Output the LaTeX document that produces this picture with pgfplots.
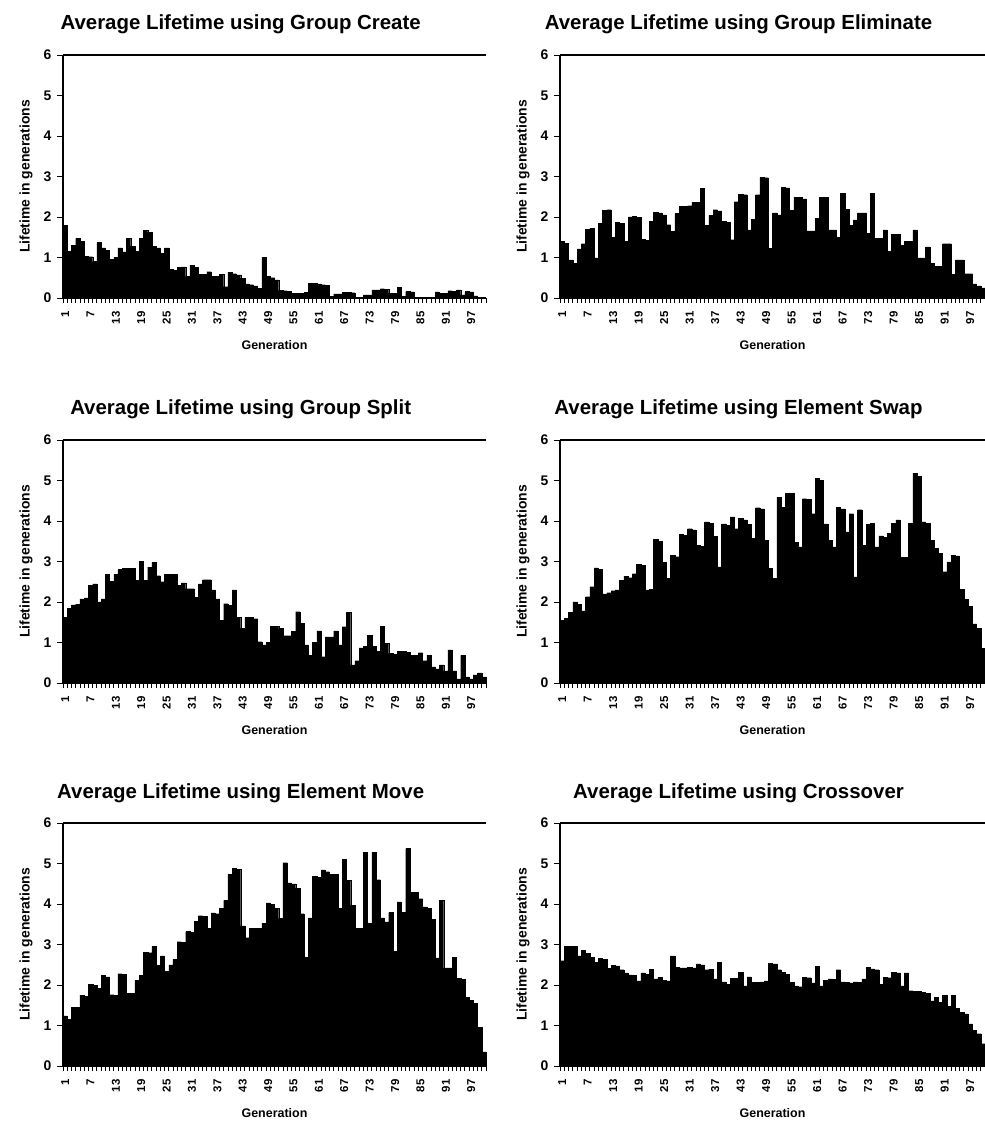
\documentclass[border=0pt]{standalone}
\usepackage{fontspec}
\setmainfont{Liberation Sans}
\usepackage{pgfplots}
\usepackage{pgfplotstable}
\pgfplotsset{compat=1.18}

\pgfplotstableread[row sep=\\]{g v\\
1 1.80\\ 2 1.15\\ 3 1.30\\ 4 1.47\\ 5 1.40\\ 6 1.03\\ 7 1.02\\ 8 0.90\\ 9 1.37\\ 10 1.24\\
11 1.18\\ 12 0.95\\ 13 1.00\\ 14 1.24\\ 15 1.14\\ 16 1.47\\ 17 1.28\\ 18 1.15\\ 19 1.47\\ 20 1.67\\
21 1.62\\ 22 1.28\\ 23 1.24\\ 24 1.10\\ 25 1.24\\ 26 0.71\\ 27 0.68\\ 28 0.76\\ 29 0.77\\ 30 0.53\\
31 0.81\\ 32 0.76\\ 33 0.59\\ 34 0.59\\ 35 0.65\\ 36 0.53\\ 37 0.53\\ 38 0.59\\ 39 0.28\\ 40 0.63\\
41 0.60\\ 42 0.57\\ 43 0.49\\ 44 0.35\\ 45 0.33\\ 46 0.30\\ 47 0.24\\ 48 1.00\\ 49 0.53\\ 50 0.50\\
51 0.45\\ 52 0.19\\ 53 0.18\\ 54 0.17\\ 55 0.12\\ 56 0.11\\ 57 0.12\\ 58 0.14\\ 59 0.37\\ 60 0.37\\
61 0.35\\ 62 0.33\\ 63 0.31\\ 64 0.04\\ 65 0.10\\ 66 0.10\\ 67 0.14\\ 68 0.14\\ 69 0.13\\ 70 0.00\\
71 0.00\\ 72 0.08\\ 73 0.08\\ 74 0.20\\ 75 0.20\\ 76 0.23\\ 77 0.22\\ 78 0.12\\ 79 0.12\\ 80 0.27\\
81 0.04\\ 82 0.16\\ 83 0.15\\ 84 0.02\\ 85 0.02\\ 86 0.00\\ 87 0.02\\ 88 0.02\\ 89 0.15\\ 90 0.12\\
91 0.12\\ 92 0.18\\ 93 0.17\\ 94 0.20\\ 95 0.08\\ 96 0.16\\ 97 0.15\\ 98 0.05\\ 99 0.02\\ 100 0.00\\
}\create

\pgfplotstableread[row sep=\\]{g v\\
1 1.40\\ 2 1.35\\ 3 0.94\\ 4 0.85\\ 5 1.21\\ 6 1.34\\ 7 1.70\\ 8 1.72\\ 9 0.99\\ 10 1.85\\
11 2.16\\ 12 2.18\\ 13 1.50\\ 14 1.87\\ 15 1.85\\ 16 1.40\\ 17 2.00\\ 18 2.02\\ 19 1.99\\ 20 1.45\\
21 1.42\\ 22 1.90\\ 23 2.11\\ 24 2.10\\ 25 2.05\\ 26 1.81\\ 27 1.64\\ 28 2.09\\ 29 2.26\\ 30 2.26\\
31 2.28\\ 32 2.36\\ 33 2.36\\ 34 2.71\\ 35 1.80\\ 36 2.04\\ 37 2.18\\ 38 2.15\\ 39 1.89\\ 40 1.87\\
41 1.44\\ 42 2.38\\ 43 2.56\\ 44 2.55\\ 45 1.68\\ 46 1.95\\ 47 2.55\\ 48 2.98\\ 49 2.97\\ 50 1.23\\
51 2.10\\ 52 2.05\\ 53 2.74\\ 54 2.72\\ 55 2.16\\ 56 2.49\\ 57 2.48\\ 58 2.45\\ 59 1.66\\ 60 1.66\\
61 1.97\\ 62 2.49\\ 63 2.48\\ 64 1.68\\ 65 1.68\\ 66 1.50\\ 67 2.59\\ 68 2.19\\ 69 1.80\\ 70 1.93\\
71 2.10\\ 72 2.10\\ 73 1.60\\ 74 2.59\\ 75 1.48\\ 76 1.48\\ 77 1.68\\ 78 1.15\\ 79 1.58\\ 80 1.58\\
81 1.30\\ 82 1.40\\ 83 1.40\\ 84 1.68\\ 85 0.99\\ 86 0.99\\ 87 1.26\\ 88 0.85\\ 89 0.78\\ 90 0.78\\
91 1.34\\ 92 1.34\\ 93 0.58\\ 94 0.94\\ 95 0.94\\ 96 0.60\\ 97 0.60\\ 98 0.35\\ 99 0.30\\ 100 0.25\\
}\eliminate

\pgfplotstableread[row sep=\\]{g v\\
1 1.62\\ 2 1.84\\ 3 1.93\\ 4 1.95\\ 5 2.08\\ 6 2.10\\ 7 2.41\\ 8 2.45\\ 9 2.00\\ 10 2.08\\
11 2.68\\ 12 2.51\\ 13 2.68\\ 14 2.80\\ 15 2.83\\ 16 2.83\\ 17 2.83\\ 18 2.53\\ 19 3.00\\ 20 2.53\\
21 2.86\\ 22 2.98\\ 23 2.65\\ 24 2.50\\ 25 2.68\\ 26 2.68\\ 27 2.68\\ 28 2.41\\ 29 2.47\\ 30 2.33\\
31 2.33\\ 32 2.12\\ 33 2.45\\ 34 2.55\\ 35 2.55\\ 36 2.30\\ 37 2.08\\ 38 1.55\\ 39 1.96\\ 40 1.92\\
41 2.30\\ 42 1.62\\ 43 1.35\\ 44 1.62\\ 45 1.62\\ 46 1.59\\ 47 1.02\\ 48 0.94\\ 49 1.00\\ 50 1.40\\
51 1.40\\ 52 1.35\\ 53 1.17\\ 54 1.17\\ 55 1.27\\ 56 1.76\\ 57 1.47\\ 58 0.94\\ 59 0.68\\ 60 1.00\\
61 1.29\\ 62 0.65\\ 63 1.14\\ 64 1.14\\ 65 1.29\\ 66 0.94\\ 67 1.39\\ 68 1.74\\ 69 0.45\\ 70 0.55\\
71 0.87\\ 72 0.90\\ 73 1.18\\ 74 0.90\\ 75 0.78\\ 76 1.40\\ 77 0.98\\ 78 0.73\\ 79 0.71\\ 80 0.78\\
81 0.78\\ 82 0.76\\ 83 0.69\\ 84 0.69\\ 85 0.75\\ 86 0.55\\ 87 0.69\\ 88 0.40\\ 89 0.35\\ 90 0.45\\
91 0.30\\ 92 0.82\\ 93 0.30\\ 94 0.10\\ 95 0.68\\ 96 0.15\\ 97 0.10\\ 98 0.20\\ 99 0.25\\ 100 0.15\\
}\split

\pgfplotstableread[row sep=\\]{g v\\
1 1.55\\ 2 1.60\\ 3 1.75\\ 4 2.00\\ 5 1.95\\ 6 1.78\\ 7 2.13\\ 8 2.38\\ 9 2.84\\ 10 2.80\\
11 2.20\\ 12 2.23\\ 13 2.28\\ 14 2.30\\ 15 2.54\\ 16 2.64\\ 17 2.60\\ 18 2.70\\ 19 2.93\\ 20 2.90\\
21 2.30\\ 22 2.31\\ 23 3.55\\ 24 3.50\\ 25 2.98\\ 26 2.58\\ 27 3.15\\ 28 3.12\\ 29 3.67\\ 30 3.65\\
31 3.81\\ 32 3.78\\ 33 3.40\\ 34 3.38\\ 35 3.98\\ 36 3.95\\ 37 3.62\\ 38 2.87\\ 39 3.93\\ 40 3.90\\
41 4.10\\ 42 3.81\\ 43 4.06\\ 44 4.03\\ 45 3.92\\ 46 3.57\\ 47 4.33\\ 48 4.30\\ 49 3.52\\ 50 2.83\\
51 2.58\\ 52 4.59\\ 53 4.34\\ 54 4.69\\ 55 4.68\\ 56 3.48\\ 57 3.36\\ 58 4.55\\ 59 4.53\\ 60 4.18\\
61 5.06\\ 62 5.00\\ 63 3.93\\ 64 3.52\\ 65 3.36\\ 66 4.34\\ 67 4.30\\ 68 3.73\\ 69 4.18\\ 70 2.62\\
71 4.28\\ 72 3.40\\ 73 3.92\\ 74 3.95\\ 75 3.36\\ 76 3.63\\ 77 3.60\\ 78 3.70\\ 79 3.95\\ 80 4.03\\
81 3.11\\ 82 3.11\\ 83 3.95\\ 84 5.18\\ 85 5.10\\ 86 3.98\\ 87 3.95\\ 88 3.52\\ 89 3.32\\ 90 3.20\\
91 2.75\\ 92 2.99\\ 93 3.16\\ 94 3.14\\ 95 2.32\\ 96 2.07\\ 97 1.89\\ 98 1.46\\ 99 1.35\\ 100 0.86\\
}\swap

\pgfplotstableread[row sep=\\]{g v\\
1 1.24\\ 2 1.16\\ 3 1.45\\ 4 1.45\\ 5 1.75\\ 6 1.72\\ 7 2.02\\ 8 2.00\\ 9 1.92\\ 10 2.24\\
11 2.20\\ 12 1.76\\ 13 1.74\\ 14 2.28\\ 15 2.26\\ 16 1.80\\ 17 1.80\\ 18 2.11\\ 19 2.24\\ 20 2.81\\
21 2.80\\ 22 2.95\\ 23 2.49\\ 24 2.72\\ 25 2.34\\ 26 2.50\\ 27 2.63\\ 28 3.07\\ 29 3.05\\ 30 3.32\\
31 3.30\\ 32 3.58\\ 33 3.71\\ 34 3.70\\ 35 3.40\\ 36 3.78\\ 37 3.76\\ 38 3.90\\ 39 4.09\\ 40 4.74\\
41 4.88\\ 42 4.86\\ 43 3.46\\ 44 3.17\\ 45 3.40\\ 46 3.40\\ 47 3.40\\ 48 3.52\\ 49 4.03\\ 50 4.00\\
51 3.90\\ 52 3.64\\ 53 5.02\\ 54 4.52\\ 55 4.50\\ 56 4.39\\ 57 3.76\\ 58 2.68\\ 59 3.66\\ 60 4.68\\
61 4.66\\ 62 4.84\\ 63 4.80\\ 64 4.74\\ 65 4.74\\ 66 3.89\\ 67 5.10\\ 68 4.58\\ 69 3.97\\ 70 3.40\\
71 3.40\\ 72 5.28\\ 73 3.52\\ 74 5.28\\ 75 4.60\\ 76 3.66\\ 77 3.56\\ 78 3.79\\ 79 2.83\\ 80 4.05\\
81 3.80\\ 82 5.37\\ 83 4.29\\ 84 4.29\\ 85 4.13\\ 86 3.93\\ 87 3.89\\ 88 3.62\\ 89 2.67\\ 90 4.09\\
91 2.42\\ 92 2.42\\ 93 2.68\\ 94 2.16\\ 95 2.14\\ 96 1.69\\ 97 1.62\\ 98 1.55\\ 99 0.95\\ 100 0.35\\
}\move

\pgfplotstableread[row sep=\\]{g v\\
1 2.60\\ 2 2.95\\ 3 2.95\\ 4 2.95\\ 5 2.72\\ 6 2.86\\ 7 2.78\\ 8 2.68\\ 9 2.56\\ 10 2.66\\
11 2.64\\ 12 2.41\\ 13 2.49\\ 14 2.47\\ 15 2.38\\ 16 2.30\\ 17 2.25\\ 18 2.24\\ 19 2.10\\ 20 2.30\\
21 2.27\\ 22 2.39\\ 23 2.15\\ 24 2.19\\ 25 2.12\\ 26 2.10\\ 27 2.72\\ 28 2.43\\ 29 2.42\\ 30 2.42\\
31 2.43\\ 32 2.42\\ 33 2.52\\ 34 2.50\\ 35 2.38\\ 36 2.39\\ 37 2.15\\ 38 2.56\\ 39 2.08\\ 40 2.02\\
41 2.16\\ 42 2.16\\ 43 2.31\\ 44 1.98\\ 45 2.20\\ 46 2.07\\ 47 2.07\\ 48 2.08\\ 49 2.10\\ 50 2.54\\
51 2.52\\ 52 2.38\\ 53 2.31\\ 54 2.27\\ 55 2.07\\ 56 1.98\\ 57 1.96\\ 58 2.19\\ 59 2.18\\ 60 2.05\\
61 2.46\\ 62 1.98\\ 63 2.11\\ 64 2.15\\ 65 2.14\\ 66 2.38\\ 67 2.08\\ 68 2.07\\ 69 2.05\\ 70 2.08\\
71 2.07\\ 72 2.15\\ 73 2.43\\ 74 2.40\\ 75 2.38\\ 76 2.02\\ 77 2.19\\ 78 2.18\\ 79 2.31\\ 80 2.30\\
81 1.98\\ 82 2.30\\ 83 1.86\\ 84 1.85\\ 85 1.84\\ 86 1.82\\ 87 1.80\\ 88 1.61\\ 89 1.70\\ 90 1.57\\
91 1.74\\ 92 1.48\\ 93 1.74\\ 94 1.43\\ 95 1.33\\ 96 1.29\\ 97 1.04\\ 98 0.88\\ 99 0.80\\ 100 0.55\\
}\crossover

\pgfplotsset{
  panel/.style={
    scale only axis,
    width=#1, height=243bp,
    anchor=south west,
    xmin=0.5, xmax=100.5, ymin=0, ymax=6,
    axis lines=left,
    axis line style={-, line width=1.2bp, black},
    tick align=outside,
    xtick={1,7,...,97},
    minor xtick={0.5,1.5,...,100.5},
    major x tick style={draw=none},
    minor x tick style={line width=0.8bp, black},
    minor tick length=5bp,
    major tick length=6bp,
    ytick={0,1,...,6},
    y tick style={line width=0.8bp, black},
    /pgf/number format/assume math mode=true,
    xticklabel style={rotate=90, anchor=east, xshift=-4bp,
      font=\bfseries\fontsize{11.5}{11.5}\selectfont},
    yticklabel style={font=\bfseries\fontsize{14}{14}\selectfont, xshift=-2bp},
    ylabel={Lifetime in generations},
    xlabel={Generation},
    every axis y label/.style={at={(rel axis cs:0,0.5)}, xshift=-37bp,
      rotate=90, anchor=center, font=\bfseries\fontsize{14}{14}\selectfont},
    every axis x label/.style={at={(rel axis cs:0.5,0)}, yshift=-47bp,
      anchor=center, font=\bfseries\fontsize{12.5}{12.5}\selectfont},
    every axis title/.style={at={(rel axis cs:0.42,1)}, yshift=25bp,
      anchor=base, font=\bfseries\fontsize{20.5}{20.5}\selectfont},
    clip=false,
    after end axis/.code={\draw[black, line width=1.2bp] (rel axis cs:0,1) -- (rel axis cs:1,1);},
  },
  bars/.style={ybar, bar width=1, bar shift=0pt, fill=black, draw=black, line width=0.2bp},
}

\begin{document}
\begin{tikzpicture}
\useasboundingbox (0,0) rectangle (985bp,1123bp);

\begin{axis}[panel=423bp, at={(63bp,825bp)}, title={Average Lifetime using Group Create}]
\addplot[bars] table[x=g, y=v] {\create};
\end{axis}

\begin{axis}[panel=425bp, at={(560bp,825bp)}, title={Average Lifetime using Group Eliminate}]
\addplot[bars] table[x=g, y=v] {\eliminate};
\end{axis}

\begin{axis}[panel=423bp, at={(63bp,440bp)}, title={Average Lifetime using Group Split}]
\addplot[bars] table[x=g, y=v] {\split};
\end{axis}

\begin{axis}[panel=425bp, at={(560bp,440bp)}, title={Average Lifetime using Element Swap}]
\addplot[bars] table[x=g, y=v] {\swap};
\end{axis}

\begin{axis}[panel=423bp, at={(63bp,57bp)}, title={Average Lifetime using Element Move}]
\addplot[bars] table[x=g, y=v] {\move};
\end{axis}

\begin{axis}[panel=425bp, at={(560bp,57bp)}, title={Average Lifetime using Crossover}]
\addplot[bars] table[x=g, y=v] {\crossover};
\end{axis}
\end{tikzpicture}
\end{document}
